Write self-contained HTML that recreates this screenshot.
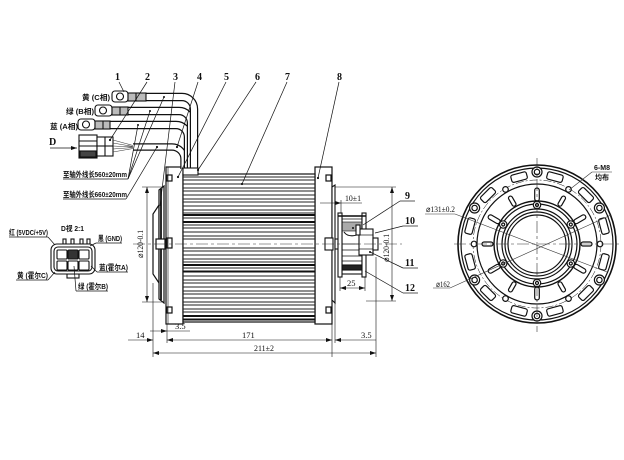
<!DOCTYPE html>
<html><head><meta charset="utf-8"><style>
html,body{margin:0;padding:0;background:#fff;}
svg{display:block}
.n{font-family:"Liberation Serif","Noto Serif CJK SC",serif;font-size:10px;fill:#111;font-weight:bold}
.c{font-family:"Liberation Sans","Noto Sans CJK SC",sans-serif;font-size:7.5px;fill:#111;font-weight:bold}
.d{font-family:"Liberation Serif","Noto Serif CJK SC",serif;font-size:8.5px;fill:#111}
</style></head><body>
<svg width="624" height="460" viewBox="0 0 624 460" xmlns="http://www.w3.org/2000/svg">
<defs>
<marker id="ar" markerWidth="6" markerHeight="4" refX="6" refY="2" orient="auto-start-reverse" markerUnits="userSpaceOnUse"><path d="M0,0 L6,2 L0,4z" fill="#111"/></marker>
</defs>
<rect width="624" height="460" fill="#fff"/>

<!-- ================= SIDE VIEW ================= -->
<g stroke="#111" fill="none" stroke-width="1.2">
<path d="M159,205 L153,214 L153,274 L159,283 Z" fill="#fff"/>
<path d="M159,190 L164,186 L164,303 L159,299 Z" fill="#fff"/>
<line x1="161" y1="189" x2="161" y2="300" stroke-width="1.8"/>
<rect x="156" y="239" width="9" height="10" fill="#fff"/>
<rect x="166" y="167" width="17" height="157" fill="#fff"/>
<line x1="168" y1="167" x2="168" y2="324" stroke-width="0.6"/>
<rect x="167" y="175" width="5" height="6"/>
<rect x="167" y="238" width="5" height="10"/>
<rect x="167" y="307" width="5" height="6"/>
<rect x="315" y="167" width="17" height="157" fill="#fff"/>
<rect x="326" y="175" width="5" height="6"/>
<rect x="326" y="238" width="5" height="10"/>
<rect x="326" y="307" width="5" height="6"/>
<rect x="183" y="174" width="132" height="148" fill="#fff"/>
</g>
<g stroke="#222" stroke-width="0.9">
<line x1="183" y1="177" x2="315" y2="177"/><line x1="183" y1="180" x2="315" y2="180"/>
<line x1="183" y1="184" x2="315" y2="184"/><line x1="183" y1="188" x2="315" y2="188"/>
<line x1="183" y1="191" x2="315" y2="191"/><line x1="183" y1="195" x2="315" y2="195"/>
<line x1="183" y1="199" x2="315" y2="199"/><line x1="183" y1="202" x2="315" y2="202"/>
<line x1="183" y1="206" x2="315" y2="206"/><line x1="183" y1="210" x2="315" y2="210"/>
<line x1="183" y1="213" x2="315" y2="213"/><line x1="183" y1="218" x2="315" y2="218"/>
<line x1="183" y1="225" x2="315" y2="225"/><line x1="183" y1="228" x2="315" y2="228"/>
<line x1="183" y1="232" x2="315" y2="232"/><line x1="183" y1="236" x2="315" y2="236"/>
<line x1="183" y1="239" x2="315" y2="239"/><line x1="183" y1="248" x2="315" y2="248"/>
<line x1="183" y1="251" x2="315" y2="251"/><line x1="183" y1="255" x2="315" y2="255"/>
<line x1="183" y1="259" x2="315" y2="259"/><line x1="183" y1="262" x2="315" y2="262"/>
<line x1="183" y1="268" x2="315" y2="268"/><line x1="183" y1="276" x2="315" y2="276"/>
<line x1="183" y1="280" x2="315" y2="280"/><line x1="183" y1="283" x2="315" y2="283"/>
<line x1="183" y1="287" x2="315" y2="287"/><line x1="183" y1="291" x2="315" y2="291"/>
<line x1="183" y1="294" x2="315" y2="294"/><line x1="183" y1="298" x2="315" y2="298"/>
<line x1="183" y1="302" x2="315" y2="302"/><line x1="183" y1="305" x2="315" y2="305"/>
<line x1="183" y1="309" x2="315" y2="309"/><line x1="183" y1="312" x2="315" y2="312"/>
</g>
<g stroke="#111" stroke-width="2">
<line x1="183" y1="215" x2="315" y2="215"/><line x1="183" y1="222" x2="315" y2="222"/>
<line x1="183" y1="265" x2="315" y2="265"/><line x1="183" y1="271.5" x2="315" y2="271.5"/>
<line x1="183" y1="316" x2="315" y2="316"/><line x1="183" y1="319.5" x2="315" y2="319.5"/>
</g>

<!-- right plate and pulley -->
<g stroke="#111" fill="none" stroke-width="1.1">
<path d="M332,187 L335,185 L335,303 L332,300 Z" fill="#fff"/>
<rect x="325" y="238" width="8" height="12" fill="#fff"/>
<rect x="335" y="239" width="4" height="10" fill="#fff"/>
<rect x="342" y="216" width="20" height="58" fill="#fff"/>
<rect x="342" y="222" width="20" height="9" fill="#aaa" stroke-width="0.6"/>
<path d="M344,232 A9,7 0 0 0 360,232" />
<line x1="342" y1="219" x2="362" y2="219" stroke-width="0.7"/>
<line x1="342" y1="244" x2="362" y2="244" stroke-width="0.7"/>
<line x1="342" y1="250" x2="362" y2="250" stroke-width="0.7"/>
<line x1="342" y1="256" x2="362" y2="256" stroke-width="0.7"/>
<line x1="342" y1="261" x2="362" y2="261" stroke-width="0.7"/>
<rect x="342" y="265" width="20" height="5" fill="#222"/>
<rect x="338" y="213" width="4" height="64" fill="#fff"/>
<rect x="362" y="213" width="4" height="64" fill="#fff"/>
<line x1="338" y1="216" x2="366" y2="216" stroke-width="1.5"/>
<rect x="359" y="229" width="14" height="26" fill="#fff"/>
<line x1="359" y1="235" x2="373" y2="235" stroke-width="0.7"/>
<line x1="359" y1="249" x2="373" y2="249" stroke-width="0.7"/>
<rect x="356" y="225" width="4" height="10" fill="#fff"/>
<rect x="373" y="238" width="5" height="12" fill="#fff"/>
</g>
<circle cx="353" cy="228" r="1" fill="#111"/>
<circle cx="370" cy="252" r="1" fill="#111"/>

<line x1="133" y1="244" x2="402" y2="244" stroke="#333" stroke-width="0.6" stroke-dasharray="12,3,3,3"/>

<!-- cables -->
<g fill="none" stroke-linecap="butt">
<path d="M133,147 H172 A12,12 0 0 1 184,159 V169" stroke="#111" stroke-width="7.4"/>
<path d="M133,147 H172 A12,12 0 0 1 184,159 V169" stroke="#fff" stroke-width="5"/>
<path d="M110,125 H176 A12,12 0 0 1 188,137 V169" stroke="#111" stroke-width="8.4"/>
<path d="M110,125 H176 A12,12 0 0 1 188,137 V169" stroke="#fff" stroke-width="6"/>
<path d="M128,111 H179 A12,12 0 0 1 191,123 V169" stroke="#111" stroke-width="8.4"/>
<path d="M128,111 H179 A12,12 0 0 1 191,123 V169" stroke="#fff" stroke-width="6"/>
<path d="M146,97 H182 A12,12 0 0 1 194,109 V169" stroke="#111" stroke-width="8.4"/>
<path d="M146,97 H182 A12,12 0 0 1 194,109 V169" stroke="#fff" stroke-width="6"/>
</g>
<g stroke="#111" fill="#fff" stroke-width="1.1">
<rect x="183" y="168" width="15" height="7"/>
<rect x="112" y="91" width="16" height="11" rx="3"/><circle cx="120" cy="96.5" r="3.5"/>
<rect x="128" y="93" width="18" height="8" fill="#bbb"/><line x1="136" y1="93" x2="136" y2="101"/>
<rect x="95" y="105" width="17" height="11" rx="3"/><circle cx="103" cy="110.5" r="3.5"/>
<rect x="112" y="107" width="16" height="8" fill="#bbb"/><line x1="120" y1="107" x2="120" y2="115"/>
<rect x="78" y="119" width="17" height="11" rx="3"/><circle cx="86" cy="124.5" r="3.5"/>
<rect x="95" y="121" width="15" height="8" fill="#bbb"/><line x1="103" y1="121" x2="103" y2="129"/>
<rect x="79" y="135" width="18" height="23"/>
<rect x="80" y="151" width="16" height="6" fill="#444"/>
<line x1="79" y1="141" x2="97" y2="141"/><line x1="79" y1="146" x2="97" y2="146"/>
<rect x="97" y="137" width="16" height="19"/>
<line x1="105" y1="137" x2="105" y2="156"/><line x1="97" y1="146" x2="113" y2="146"/>
</g>
<g stroke="#333" stroke-width="0.6">
<line x1="113" y1="140" x2="133" y2="145.5"/><line x1="113" y1="143" x2="133" y2="146.5"/>
<line x1="113" y1="146" x2="133" y2="147"/><line x1="113" y1="149" x2="133" y2="147.5"/>
<line x1="113" y1="152" x2="133" y2="148.5"/>
</g>
<g fill="#111">
<circle cx="110" cy="140" r="1.1"/><circle cx="177" cy="147" r="1.1"/><circle cx="157" cy="147" r="1.1"/>
<circle cx="178" cy="177" r="1.1"/><circle cx="198" cy="170" r="1.1"/><circle cx="242" cy="184" r="1.1"/>
<circle cx="318" cy="178" r="1.1"/><circle cx="164" cy="97" r="1"/><circle cx="150" cy="111" r="1"/><circle cx="138" cy="125" r="1"/>
</g>
<line x1="50" y1="148" x2="77" y2="148" stroke="#111" stroke-width="0.8" marker-end="url(#ar)"/>
<text class="n" x="49" y="145" font-size="8">D</text>

<g stroke="#111" stroke-width="0.7" fill="none">
<line x1="119" y1="82" x2="124" y2="92"/>
<line x1="147" y1="82" x2="110" y2="140"/>
<line x1="175" y1="82" x2="160" y2="206"/>
<line x1="198" y1="82" x2="177" y2="147"/>
<line x1="226" y1="82" x2="178" y2="177"/>
<line x1="256" y1="82" x2="198" y2="170"/>
<line x1="287" y1="82" x2="242" y2="184"/>
<line x1="339" y1="82" x2="318" y2="178"/>
<line x1="63" y1="179" x2="128" y2="179"/>
<line x1="128" y1="179" x2="138" y2="125"/>
<line x1="128" y1="179" x2="150" y2="111"/>
<line x1="128" y1="179" x2="164" y2="97"/>
<line x1="63" y1="199" x2="126" y2="199"/>
<line x1="126" y1="199" x2="157" y2="147"/>
<line x1="400" y1="201" x2="415" y2="201"/><line x1="400" y1="201" x2="363" y2="225"/>
<line x1="403" y1="226" x2="418" y2="226"/><line x1="403" y1="226" x2="375" y2="233"/>
<line x1="403" y1="268" x2="418" y2="268"/><line x1="403" y1="268" x2="370" y2="252"/>
<line x1="403" y1="293" x2="418" y2="293"/><line x1="403" y1="293" x2="365" y2="271"/>
</g>
<text class="n" x="115" y="80">1</text>
<text class="n" x="145" y="80">2</text>
<text class="n" x="173" y="80">3</text>
<text class="n" x="197" y="80">4</text>
<text class="n" x="224" y="80">5</text>
<text class="n" x="255" y="80">6</text>
<text class="n" x="285" y="80">7</text>
<text class="n" x="337" y="80">8</text>
<text class="n" x="405" y="199">9</text>
<text class="n" x="405" y="224">10</text>
<text class="n" x="405" y="266">11</text>
<text class="n" x="405" y="291">12</text>
<text class="c" x="82" y="100" textLength="28" lengthAdjust="spacingAndGlyphs">黄 (C相)</text>
<text class="c" x="66" y="114" textLength="28" lengthAdjust="spacingAndGlyphs">绿 (B相)</text>
<text class="c" x="50" y="129" textLength="28" lengthAdjust="spacingAndGlyphs">蓝 (A相)</text>
<text class="c" x="63" y="177" textLength="64" lengthAdjust="spacingAndGlyphs">至轴外线长560±20mm</text>
<text class="c" x="63" y="197" textLength="64" lengthAdjust="spacingAndGlyphs">至轴外线长660±20mm</text>

<!-- connector detail -->
<g stroke="#111" fill="#fff" stroke-width="1.1">
<rect x="63" y="239" width="3" height="5"/><rect x="71" y="239" width="3" height="5"/>
<rect x="80" y="239" width="3" height="5"/><rect x="87" y="239" width="3" height="5"/>
<rect x="67" y="274" width="12" height="4"/>
<rect x="51" y="244" width="44" height="30" rx="6"/>
<rect x="54" y="247" width="38" height="24" rx="4"/>
<rect x="57" y="250" width="10" height="9" rx="1"/><rect x="68" y="250" width="10" height="9" rx="1" fill="#333"/><rect x="79" y="250" width="10" height="9" rx="1"/>
<rect x="57" y="261" width="10" height="9" rx="1"/><rect x="68" y="261" width="10" height="9" rx="1"/><rect x="79" y="261" width="10" height="9" rx="1"/>
</g>
<g stroke="#111" stroke-width="0.7" fill="none">
<line x1="9" y1="237" x2="48" y2="237"/><line x1="48" y1="237" x2="55" y2="245"/>
<line x1="96" y1="243" x2="122" y2="243"/><line x1="96" y1="243" x2="90" y2="246"/>
<line x1="97" y1="272" x2="128" y2="272"/><line x1="97" y1="272" x2="91" y2="266"/>
<line x1="16" y1="280" x2="48" y2="280"/><line x1="48" y1="280" x2="55" y2="272"/>
<line x1="76" y1="291" x2="108" y2="291"/><line x1="76" y1="291" x2="74" y2="266"/>
</g>
<text class="c" x="61" y="231" textLength="23" lengthAdjust="spacingAndGlyphs">D视 2:1</text>
<text class="c" x="9" y="235" textLength="39" lengthAdjust="spacingAndGlyphs">红 (5VDC/+5V)</text>
<text class="c" x="98" y="241" textLength="24" lengthAdjust="spacingAndGlyphs">黑 (GND)</text>
<text class="c" x="99" y="270" textLength="29" lengthAdjust="spacingAndGlyphs">蓝(霍尔A)</text>
<text class="c" x="17" y="278" textLength="31" lengthAdjust="spacingAndGlyphs">黄 (霍尔C)</text>
<text class="c" x="78" y="289" textLength="30" lengthAdjust="spacingAndGlyphs">绿 (霍尔B)</text>

<!-- dimensions side view -->
<g stroke="#111" stroke-width="0.6" fill="none">
<line x1="142" y1="187" x2="162" y2="187"/><line x1="142" y1="302" x2="162" y2="302"/>
<line x1="147" y1="187" x2="147" y2="302" marker-start="url(#ar)" marker-end="url(#ar)"/>
<line x1="335" y1="187" x2="396" y2="187"/><line x1="366" y1="301" x2="396" y2="301"/>
<line x1="392" y1="187" x2="392" y2="301" marker-start="url(#ar)" marker-end="url(#ar)"/>
<line x1="341" y1="200" x2="341" y2="213"/>
<line x1="320" y1="203" x2="341" y2="203" marker-end="url(#ar)"/><line x1="341" y1="203" x2="362" y2="203"/>
<line x1="340" y1="277" x2="340" y2="291"/><line x1="365" y1="277" x2="365" y2="291"/>
<line x1="340" y1="288" x2="365" y2="288" marker-start="url(#ar)" marker-end="url(#ar)"/>
<line x1="153" y1="283" x2="153" y2="357"/>
<line x1="167" y1="324" x2="167" y2="343"/>
<line x1="332" y1="324" x2="332" y2="357"/>
<line x1="335" y1="303" x2="335" y2="343"/>
<line x1="376" y1="257" x2="376" y2="357"/>
<line x1="128" y1="340" x2="153" y2="340" marker-end="url(#ar)"/>
<line x1="167" y1="340" x2="332" y2="340" marker-start="url(#ar)" marker-end="url(#ar)"/>
<line x1="150" y1="331" x2="167" y2="331" marker-end="url(#ar)"/><line x1="167" y1="331" x2="190" y2="331"/>
<line x1="335" y1="340" x2="376" y2="340" marker-start="url(#ar)"/>
<line x1="153" y1="353" x2="376" y2="353" marker-start="url(#ar)" marker-end="url(#ar)"/>
</g>
<text class="d" x="136" y="338">14</text>
<text class="d" x="175" y="329">3.5</text>
<text class="d" x="242" y="338">171</text>
<text class="d" x="361" y="338">3.5</text>
<text class="d" x="254" y="351" textLength="20" lengthAdjust="spacingAndGlyphs">211±2</text>
<text class="d" x="345" y="201" textLength="16" lengthAdjust="spacingAndGlyphs">10±1</text>
<text class="d" x="347" y="286">25</text>
<text class="d" font-size="7" transform="translate(143,258) rotate(-90)" textLength="28" lengthAdjust="spacingAndGlyphs">⌀120-0.1</text>
<text class="d" font-size="7" transform="translate(389,262) rotate(-90)" textLength="28" lengthAdjust="spacingAndGlyphs">⌀120-0.1</text>

<!-- ================= FRONT VIEW ================= -->
<g stroke="#111" fill="none" stroke-width="1.2">
<circle cx="537" cy="244" r="79" stroke-width="1.6"/>
<circle cx="537" cy="244" r="76"/>
<circle cx="537" cy="244" r="60"/>
<circle cx="537" cy="244" r="64" stroke-width="0.5" stroke-dasharray="8,2,2,2"/>
<g transform="translate(537,244)">
<rect x="-8" y="-73" width="16" height="7.5" rx="2" transform="rotate(15)"/>
<rect x="-8" y="-73" width="16" height="7.5" rx="2" transform="rotate(45)"/>
<rect x="-8" y="-73" width="16" height="7.5" rx="2" transform="rotate(75)"/>
<rect x="-8" y="-73" width="16" height="7.5" rx="2" transform="rotate(105)"/>
<rect x="-8" y="-73" width="16" height="7.5" rx="2" transform="rotate(135)"/>
<rect x="-8" y="-73" width="16" height="7.5" rx="2" transform="rotate(165)"/>
<rect x="-8" y="-73" width="16" height="7.5" rx="2" transform="rotate(195)"/>
<rect x="-8" y="-73" width="16" height="7.5" rx="2" transform="rotate(225)"/>
<rect x="-8" y="-73" width="16" height="7.5" rx="2" transform="rotate(255)"/>
<rect x="-8" y="-73" width="16" height="7.5" rx="2" transform="rotate(285)"/>
<rect x="-8" y="-73" width="16" height="7.5" rx="2" transform="rotate(315)"/>
<rect x="-8" y="-73" width="16" height="7.5" rx="2" transform="rotate(345)"/>
<rect x="-2.3" y="-56" width="4.6" height="13" rx="2.3" transform="rotate(0)"/>
<rect x="-2" y="-55" width="4" height="11" rx="2" transform="rotate(30)"/>
<rect x="-2.3" y="-56" width="4.6" height="13" rx="2.3" transform="rotate(60)"/>
<rect x="-2" y="-55" width="4" height="11" rx="2" transform="rotate(90)"/>
<rect x="-2.3" y="-56" width="4.6" height="13" rx="2.3" transform="rotate(120)"/>
<rect x="-2" y="-55" width="4" height="11" rx="2" transform="rotate(150)"/>
<rect x="-2.3" y="-56" width="4.6" height="13" rx="2.3" transform="rotate(180)"/>
<rect x="-2" y="-55" width="4" height="11" rx="2" transform="rotate(210)"/>
<rect x="-2.3" y="-56" width="4.6" height="13" rx="2.3" transform="rotate(240)"/>
<rect x="-2" y="-55" width="4" height="11" rx="2" transform="rotate(270)"/>
<rect x="-2.3" y="-56" width="4.6" height="13" rx="2.3" transform="rotate(300)"/>
<rect x="-2" y="-55" width="4" height="11" rx="2" transform="rotate(330)"/>
</g>
<circle cx="537" cy="244" r="43" stroke-width="1.4"/>
<circle cx="537" cy="244" r="40"/>
<circle cx="537" cy="244" r="35"/>
<circle cx="537" cy="244" r="32"/>
<circle cx="537" cy="244" r="29"/>
</g>
<g stroke="#111" fill="#fff" stroke-width="1.2">
<circle cx="537" cy="172" r="5"/><circle cx="599.4" cy="208" r="5"/><circle cx="599.4" cy="280" r="5"/>
<circle cx="537" cy="316" r="5"/><circle cx="474.6" cy="280" r="5"/><circle cx="474.6" cy="208" r="5"/>
<circle cx="537" cy="172" r="2.7"/><circle cx="599.4" cy="208" r="2.7"/><circle cx="599.4" cy="280" r="2.7"/>
<circle cx="537" cy="316" r="2.7"/><circle cx="474.6" cy="280" r="2.7"/><circle cx="474.6" cy="208" r="2.7"/>
<circle cx="568.5" cy="189.4" r="2.8"/><circle cx="600" cy="244" r="2.8"/><circle cx="568.5" cy="298.6" r="2.8"/>
<circle cx="505.5" cy="298.6" r="2.8"/><circle cx="474" cy="244" r="2.8"/><circle cx="505.5" cy="189.4" r="2.8"/>
<circle cx="537" cy="205" r="3.7"/><circle cx="570.8" cy="224.5" r="3.7"/><circle cx="570.8" cy="263.5" r="3.7"/>
<circle cx="537" cy="283" r="3.7"/><circle cx="503.2" cy="263.5" r="3.7"/><circle cx="503.2" cy="224.5" r="3.7"/>
<circle cx="537" cy="205" r="1.5"/><circle cx="570.8" cy="224.5" r="1.5"/><circle cx="570.8" cy="263.5" r="1.5"/>
<circle cx="537" cy="283" r="1.5"/><circle cx="503.2" cy="263.5" r="1.5"/><circle cx="503.2" cy="224.5" r="1.5"/>
</g>
<g stroke="#333" stroke-width="0.6" fill="none">
<line x1="454" y1="244" x2="621" y2="244" stroke-dasharray="12,3,3,3"/>
<line x1="537" y1="158" x2="537" y2="332" stroke-dasharray="12,3,3,3"/>
<line x1="425" y1="214" x2="455" y2="214"/>
<line x1="455" y1="214" x2="607" y2="272"/>
<line x1="433" y1="288" x2="450" y2="288"/>
<line x1="450" y1="288" x2="611" y2="215"/>
<line x1="592" y1="172" x2="612" y2="172"/>
<line x1="592" y1="172" x2="569" y2="190"/>
</g>
<text class="d" x="426" y="212" textLength="29" lengthAdjust="spacingAndGlyphs">⌀131±0.2</text>
<text class="d" x="436" y="287" textLength="14" lengthAdjust="spacingAndGlyphs">⌀162</text>
<text class="c" x="594" y="170" textLength="16" lengthAdjust="spacingAndGlyphs">6-M8</text>
<text class="c" x="595" y="180" textLength="14" lengthAdjust="spacingAndGlyphs">均布</text>
</svg>
</body></html>
